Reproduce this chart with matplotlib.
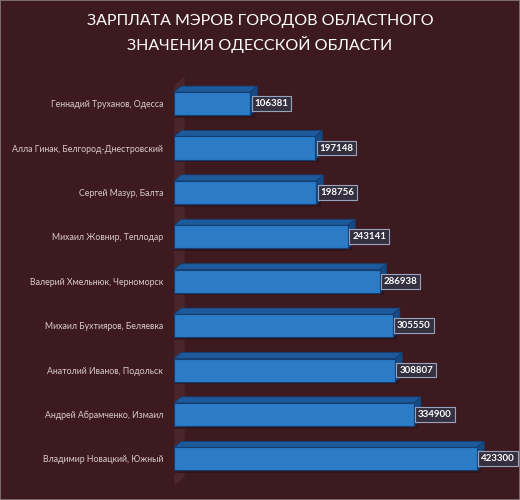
import matplotlib
matplotlib.use("Agg")
import matplotlib.pyplot as plt
from matplotlib.patches import Polygon, Rectangle

# Data (bottom to top)
names = [
    "Владимир Новацкий, Южный",
    "Андрей Абрамченко, Измаил",
    "Анатолий Иванов, Подольск",
    "Михаил Бухтияров, Беляевка",
    "Валерий Хмельнюк, Черноморск",
    "Михаил Жовнир, Теплодар",
    "Сергей Мазур, Балта",
    "Алла Гинак, Белгород-Днестровский",
    "Геннадий Труханов, Одесса",
]
salaries = [423300, 334900, 308807, 305550, 286938, 243141, 198756, 197148, 106381]

title = "ЗАРПЛАТА МЭРОВ ГОРОДОВ ОБЛАСТНОГО\nЗНАЧЕНИЯ ОДЕССКОЙ ОБЛАСТИ"

bg = "#3d1a1f"
front = "#2b7bc6"
top_c = "#1d5a9c"
side_c = "#174a85"
edge = "#153f73"

plt.rcParams["font.family"] = ["Lato", "DejaVu Sans"]

fig = plt.figure(figsize=(5.2, 5.0), dpi=100, facecolor=bg)
ax = fig.add_axes([0.335, 0.029, 0.633, 0.817])
ax.set_facecolor(bg)

xmax = 460000
ax.set_xlim(0, xmax)
ax.set_ylim(-0.6, len(names) - 0.4)

# pixel -> data conversion for 3D depth
ax_w_px = 0.633 * 520
ax_h_px = 0.817 * 500
dx = 7 * xmax / ax_w_px
dy = 6 * (len(names) + 0.2) / ax_h_px

# back wall
wall = Polygon([(0, 0), (0.032, 0.02), (0.032, 1.0), (0, 0.98)], closed=True,
               transform=ax.transAxes, facecolor="#4a2529", edgecolor="none", zorder=0)
ax.add_patch(wall)

h = 0.52
for i, v in enumerate(salaries):
    # shadow
    ax.add_patch(Rectangle((0, i - h / 2 - 0.06), v + dx * 0.6, h, facecolor="#2a1014",
                           edgecolor="none", alpha=0.6, zorder=1))
    ax.barh(i, v, height=h, color=front, edgecolor=edge, linewidth=0.8, zorder=3)
    top = Polygon([(0, i + h / 2), (v, i + h / 2), (v + dx, i + h / 2 + dy), (dx, i + h / 2 + dy)],
                  closed=True, facecolor=top_c, edgecolor=edge, linewidth=0.6, zorder=2)
    side = Polygon([(v, i - h / 2), (v + dx, i - h / 2 + dy), (v + dx, i + h / 2 + dy), (v, i + h / 2)],
                   closed=True, facecolor=side_c, edgecolor=edge, linewidth=0.6, zorder=2)
    ax.add_patch(top)
    ax.add_patch(side)
    ax.text(v + dx * 0.6, i, str(v), va="center", ha="left", color="white",
            fontsize=7, fontweight="bold", zorder=5,
            bbox=dict(boxstyle="square,pad=0.3", facecolor="#35303f", edgecolor="#9aa3bd", linewidth=0.8))

ax.set_yticks(range(len(names)))
ax.set_yticklabels(names, color="#d8cccc", fontsize=6.3)
ax.tick_params(axis="y", length=0, pad=8)
ax.set_xticks([])
for s in ax.spines.values():
    s.set_visible(False)

fig.text(0.5, 0.972, title, ha="center", va="top", color="white", fontsize=11.5,
         linespacing=1.55)

fig.patches.append(Rectangle((0, 0), 1, 1, transform=fig.transFigure, fill=False,
                             edgecolor="#8a7a7d", linewidth=1.2))

fig.savefig("out.png", dpi=100, facecolor=bg)
